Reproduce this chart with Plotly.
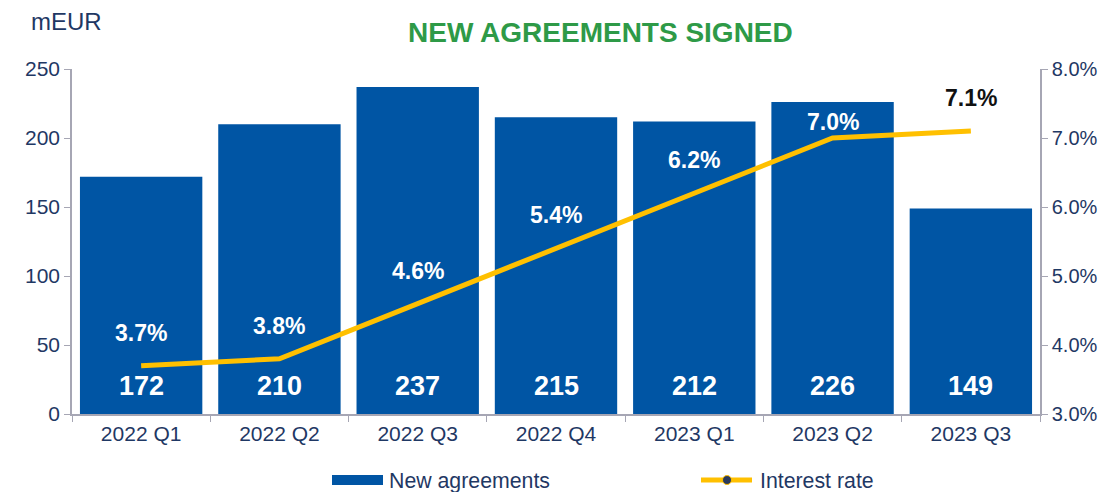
import plotly.graph_objects as go

quarters = ["2022 Q1", "2022 Q2", "2022 Q3", "2022 Q4", "2023 Q1", "2023 Q2", "2023 Q3"]
new_agreements = [172, 210, 237, 215, 212, 226, 149]
interest_rate = [3.7, 3.8, 4.6, 5.4, 6.2, 7.0, 7.1]

BAR = "#0055A4"
LINE = "#FFC000"
NAVY = "#1F3864"
AXIS = "#A6A6B4"
FONT = "Arial, Liberation Sans, sans-serif"

OFF = 8  # page body margin
W, H = 1109 - OFF, 492 - OFF
L, R, T, B = 72 - OFF, 69, 69 - OFF, 78
PW, PH = W - L - R, H - T - B


def px(x):
    return (x - OFF - L) / PW


def py(y):
    return (H - B - (y - OFF)) / PH


fig = go.Figure()
fig.add_trace(go.Bar(x=quarters, y=new_agreements, name="New agreements",
                     marker=dict(color=BAR, line=dict(width=0)), yaxis="y", showlegend=False))
fig.add_trace(go.Scatter(x=quarters, y=[r / 100 for r in interest_rate], mode="lines",
                         line=dict(color=LINE, width=5), yaxis="y2", showlegend=False,
                         name="Interest rate"))

annotations = []
for q, v in zip(quarters, new_agreements):
    annotations.append(dict(x=q, y=20, xref="x", yref="y", text=f"<b>{v}</b>",
                            showarrow=False, font=dict(color="white", size=27, family=FONT)))
for i, (q, r) in enumerate(zip(quarters, interest_rate)):
    last = i == len(quarters) - 1
    annotations.append(dict(x=q, y=r / 100, xref="x", yref="y2", text=f"<b>{r:.1f}%</b>",
                            showarrow=False, yshift=16 if i == 5 else 33,
                            font=dict(color="#111111" if last else "white", size=23, family=FONT)))
annotations.append(dict(x=px(29), y=py(22), xref="paper", yref="paper", text="mEUR",
                        showarrow=False, xanchor="left", yanchor="middle",
                        font=dict(color=NAVY, size=24, family=FONT)))
annotations.append(dict(x=px(600), y=py(32), xref="paper", yref="paper",
                        text="<b>NEW AGREEMENTS SIGNED</b>", showarrow=False,
                        xanchor="center", yanchor="middle",
                        font=dict(color="#2E9A47", size=28, family=FONT)))
# legend (manual)
annotations.append(dict(x=px(387), y=py(481), xref="paper", yref="paper", text="New agreements",
                        showarrow=False, xanchor="left", yanchor="middle",
                        font=dict(color=NAVY, size=21.3, family=FONT)))
annotations.append(dict(x=px(758), y=py(481), xref="paper", yref="paper", text="Interest rate",
                        showarrow=False, xanchor="left", yanchor="middle",
                        font=dict(color=NAVY, size=21.3, family=FONT)))

shapes = [
    dict(type="rect", xref="paper", yref="paper", x0=px(332), x1=px(383), y0=py(485), y1=py(475),
         fillcolor=BAR, line=dict(width=0)),
    dict(type="line", xref="paper", yref="paper", x0=px(701), x1=px(752), y0=py(480), y1=py(480),
         line=dict(color=LINE, width=5)),
    dict(type="circle", xref="paper", yref="paper", x0=px(722.5), x1=px(731.5),
         y0=py(484.5), y1=py(475.5), fillcolor="#2B3A5C", line=dict(color=LINE, width=1)),
]

axis_common = dict(showline=True, linecolor=AXIS, linewidth=1.5, ticks="outside",
                   tickcolor=AXIS, ticklen=6, showgrid=False, zeroline=False)

fig.update_layout(
    width=W, height=H,
    margin=dict(l=L, r=R, t=T, b=B, autoexpand=False),
    paper_bgcolor="white", plot_bgcolor="white",
    font=dict(family=FONT, color=NAVY, size=20),
    bargap=0.115,
    xaxis=dict(tickson="boundaries", tickfont=dict(size=21, color=NAVY), automargin=False,
               **axis_common),
    yaxis=dict(range=[0, 250], dtick=50, tickfont=dict(size=21, color=NAVY), automargin=False,
               **axis_common),
    yaxis2=dict(range=[0.03, 0.08], dtick=0.01, tickformat=".1%", overlaying="y", side="right",
                tickfont=dict(size=20, color=NAVY), automargin=False, **axis_common),
    showlegend=False,
    annotations=annotations,
    shapes=shapes,
)

fig.write_html("out.html")
